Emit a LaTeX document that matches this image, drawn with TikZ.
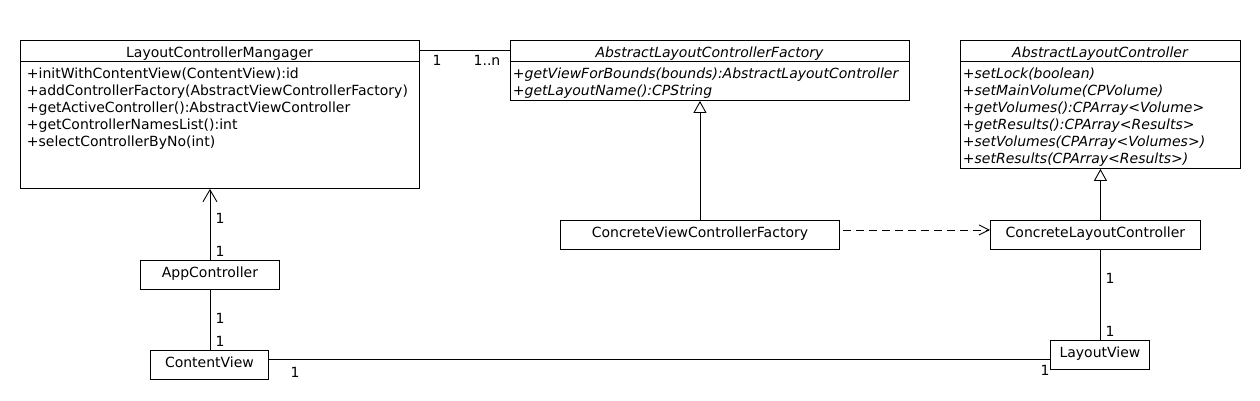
\documentclass[tikz,border=0pt]{standalone}
\usepackage{fontspec}
\setmainfont{DejaVu Sans}
\usetikzlibrary{arrows.meta}
\begin{document}
\begin{tikzpicture}[x=1pt,y=-1pt,line width=0.9pt,
  every node/.style={font=\fontsize{14}{17}\selectfont},
  classbox/.style={draw,rectangle,inner sep=0pt,anchor=north west},
  simplebox/.style={draw,rectangle,inner sep=0pt,anchor=north west,text height=9pt,text depth=4pt},
  ttl/.style={inner sep=0pt,anchor=base},
  mth/.style={inner sep=0pt,anchor=base west},
  lbl/.style={inner sep=0pt,anchor=base},
  gen/.style={-{Triangle[open,length=12pt,width=13pt]}},
  nav/.style={-{Straight Barb[length=12pt,width=14pt]}},
  dep/.style={dash pattern=on 8pt off 5pt,-{Straight Barb[length=10pt,width=10pt]}}]
\useasboundingbox (0,0) rectangle (1260,400);

% LayoutControllerMangager
\node[classbox,minimum width=399pt,minimum height=148pt] (lcm) at (20,40) {};
\draw ([yshift=-21pt]lcm.north west) -- ([yshift=-21pt]lcm.north east);
\node[ttl] (lcmt) at (219.5,57.5) {LayoutControllerMangager};
\foreach \t [count=\i] in {{+initWithContentView(ContentView):id},
  {+addControllerFactory(AbstractViewControllerFactory)},
  {+getActiveController():AbstractViewController},
  {+getControllerNamesList():int},
  {+selectControllerByNo(int)}}
  \node[mth] (lcmm\i) at (26.5,{61+17*\i}) {\t};

% AbstractLayoutControllerFactory
\node[classbox,minimum width=399pt,minimum height=60pt] (alcf) at (510,40) {};
\draw ([yshift=-21pt]alcf.north west) -- ([yshift=-21pt]alcf.north east);
\node[ttl,font=\fontsize{14}{17}\selectfont\itshape] (alcft) at (709.5,57) {AbstractLayoutControllerFactory};
\foreach \t [count=\i] in {{+getViewForBounds(bounds):AbstractLayoutController},
  {+getLayoutName():CPString}}
  \node[mth,font=\fontsize{14}{17}\selectfont\itshape] (alcfm\i) at (512.5,{61+17*\i}) {\t};

% AbstractLayoutController
\node[classbox,minimum width=280pt,minimum height=128pt] (alc) at (960,40) {};
\draw ([yshift=-21pt]alc.north west) -- ([yshift=-21pt]alc.north east);
\node[ttl,font=\fontsize{14}{17}\selectfont\itshape] (alct) at (1100,57) {AbstractLayoutController};
\foreach \t [count=\i] in {{+setLock(boolean)},
  {+setMainVolume(CPVolume)},
  {+getVolumes():CPArray<Volume>},
  {+getResults():CPArray<Results>},
  {+setVolumes(CPArray<Volumes>)},
  {+setResults(CPArray<Results>)}}
  \node[mth,font=\fontsize{14}{17}\selectfont\itshape] (alcm\i) at (962.5,{61+17*\i}) {\t};

% simple boxes
\node[simplebox,minimum width=279pt,minimum height=29pt] (cvcf) at (560,220) {ConcreteViewControllerFactory};
\node[simplebox,minimum width=210pt,minimum height=29pt] (clc) at (990,220) {ConcreteLayoutController};
\node[simplebox,minimum width=139pt,minimum height=29pt] (app) at (140,260) {AppController};
\node[simplebox,minimum width=118pt,minimum height=29pt] (cv) at (150,350) {ContentView};
\node[simplebox,minimum width=99pt,minimum height=29pt] (lv) at (1050,340) {LayoutView};

% connectors
\draw ([yshift=-10pt]lcm.north east) -- ([yshift=-10pt]alcf.north west);
\draw[gen] (cvcf.north) -- (cvcf.north |- alcf.south);
\draw[gen] (clc.north -| alc.south) -- (alc.south);
\draw[dep] ([xshift=3pt,yshift=5pt]cvcf.east) -- ([yshift=5pt]clc.west);
\draw[nav] (app.north) -- (app.north |- lcm.south);
\draw (app.south) -- (app.south |- cv.north);
\draw ([yshift=5.5pt]cv.east) -- ([yshift=5.5pt]cv.east -| lv.west);
\draw (clc.south -| lv.north) -- (lv.north);

% multiplicities
\node[lbl] (m1) at (437,65) {1};
\node[lbl] (m2) at (487,65) {1..n};
\node[lbl] (m3) at (220,223) {1};
\node[lbl] (m4) at (220,256) {1};
\node[lbl] (m5) at (220,323) {1};
\node[lbl] (m6) at (220,346) {1};
\node[lbl] (m7) at (295,377) {1};
\node[lbl] (m8) at (1045,375) {1};
\node[lbl] (m9) at (1110,283) {1};
\node[lbl] (m10) at (1110,336) {1};
\end{tikzpicture}
\end{document}
